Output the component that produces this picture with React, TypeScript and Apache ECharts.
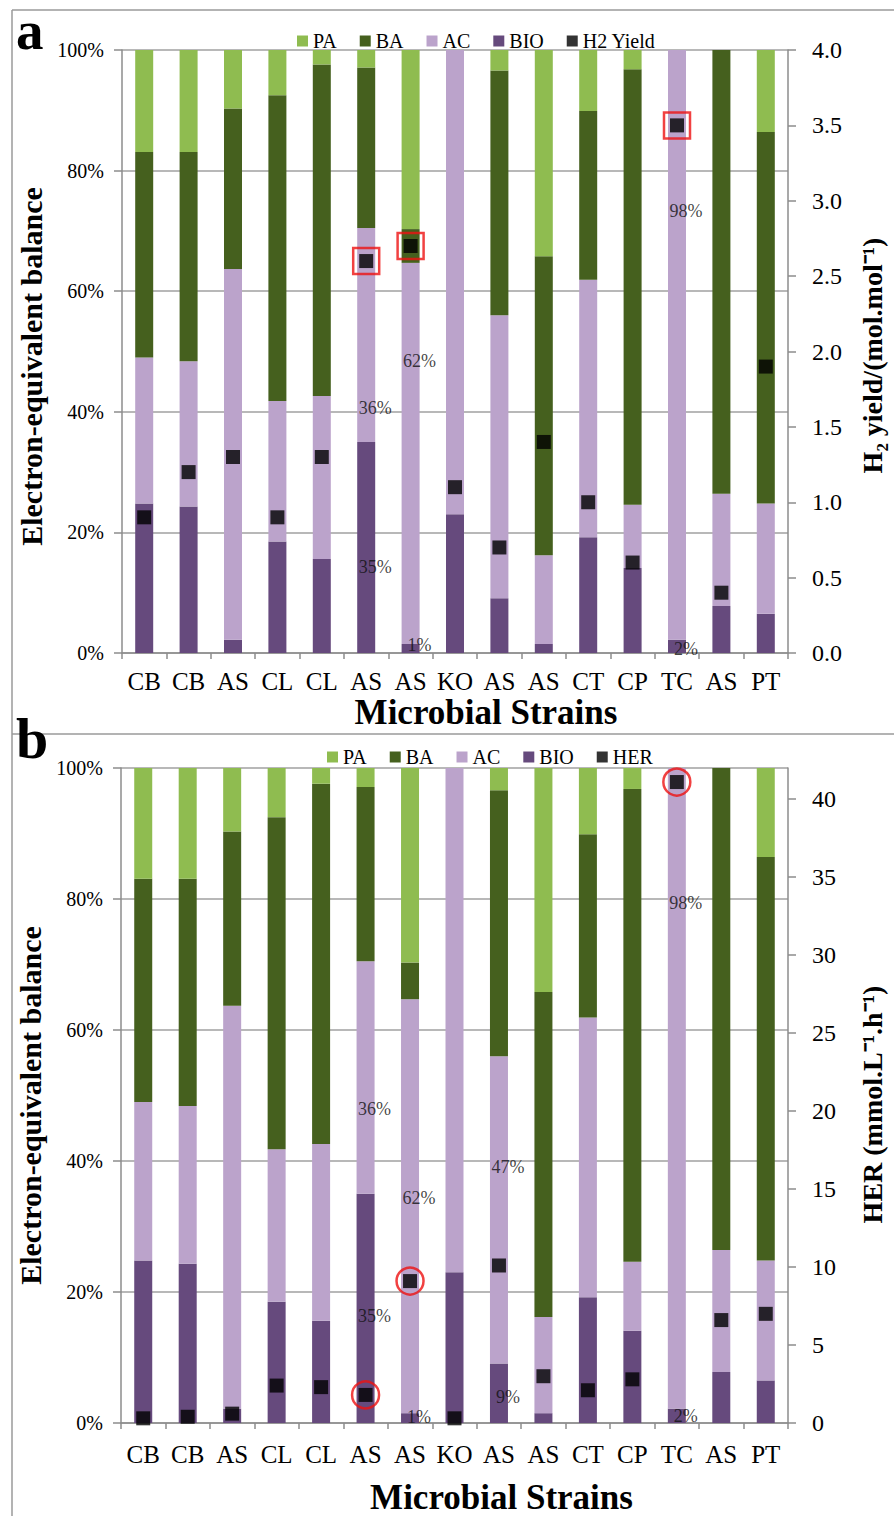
import React, { useEffect, useRef } from 'react';
import * as echarts from 'echarts';

// ---------- data ----------
const categories = ['CB', 'CB', 'AS', 'CL', 'CL', 'AS', 'AS', 'KO', 'AS', 'AS', 'CT', 'CP', 'TC', 'AS', 'PT'];
const bio = [24.8, 24.3, 2.2, 18.5, 15.6, 35.0, 1.5, 23.0, 9.1, 1.5, 19.2, 14.1, 2.2, 7.8, 6.5];
const ac = [24.2, 24.1, 61.5, 23.3, 27.0, 35.5, 63.2, 77.0, 46.9, 14.7, 42.7, 10.5, 97.8, 18.6, 18.3];
const ba = [34.1, 34.7, 26.6, 50.7, 55.0, 26.6, 5.6, 0, 40.6, 49.6, 28.0, 72.2, 0, 73.6, 61.6];
const pa = [16.9, 16.9, 9.7, 7.5, 2.4, 2.9, 29.7, 0, 3.4, 34.2, 10.1, 3.2, 0, 0, 13.6];

const h2Yield = [0.9, 1.2, 1.3, 0.9, 1.3, 2.6, 2.7, 1.1, 0.7, 1.4, 1.0, 0.6, 3.5, 0.4, 1.9];
const her = [0.3, 0.4, 0.6, 2.4, 2.3, 1.8, 9.1, 0.3, 10.1, 3.0, 2.1, 2.8, 41.1, 6.6, 7.0];

const highlightA = [5, 6, 12];
const highlightB = [5, 6, 12];

// percent annotations (category index, y position in %, text)
const annotCatA = [5, 5, 6, 6, 12, 12];
const annotPctA = [40.7, 14.2, 48.5, 1.3, 73.3, 0.6];
const annotTextA = ['36%', '35%', '62%', '1%', '98%', '2%'];

const annotCatB = [5, 5, 6, 6, 8, 8, 12, 12];
const annotPctB = [48.0, 16.3, 34.4, 0.9, 39.1, 3.9, 79.4, 1.0];
const annotTextB = ['36%', '35%', '62%', '1%', '47%', '9%', '98%', '2%'];

const leftTicks = [0, 20, 40, 60, 80, 100];

// ---------- styles ----------
const FONT = '"Liberation Serif", "Times New Roman", serif';
const C_PA = '#8FBC50';
const C_BA = '#45601E';
const C_AC = '#BBA3CB';
const C_BIO = '#664A7D';
const AXIS_GREY = '#8c8c8c';

function buildOption() {
  const xAxisBase = (gridIndex: number, margin: number, nameGap: number, shift: number) => ({
    type: 'category',
    gridIndex,
    data: categories,
    boundaryGap: true,
    axisLine: { lineStyle: { color: AXIS_GREY, width: 1.5 } },
    axisTick: { show: true, alignWithLabel: false, length: 6, lineStyle: { color: AXIS_GREY, width: 1.5 } },
    axisLabel: { interval: 0, margin, color: '#000', fontFamily: FONT, fontSize: 25 },
    name: 'Microbial Strains',
    nameLocation: 'middle',
    nameGap,
    nameTextStyle: {
      color: '#000',
      fontFamily: FONT,
      fontSize: 35,
      fontWeight: 'bold',
      padding: [0, 0, 0, shift],
    },
  });

  const leftAxis = (gridIndex: number, down: number) => ({
    type: 'value',
    gridIndex,
    position: 'left',
    min: leftTicks[0],
    max: leftTicks[leftTicks.length - 1],
    interval: 20,
    axisLine: { show: true, lineStyle: { color: AXIS_GREY, width: 1.5 } },
    axisTick: { show: true, length: 8, lineStyle: { color: AXIS_GREY, width: 1.5 } },
    axisLabel: { formatter: '{value}%', margin: 18, color: '#000', fontFamily: FONT, fontSize: 20 },
    splitLine: { show: true, lineStyle: { color: '#a0a0a0', width: 1.5 } },
    name: 'Electron-equivalent balance',
    nameLocation: 'middle',
    nameGap: 73,
    nameTextStyle: {
      color: '#000',
      fontFamily: FONT,
      fontSize: 30,
      fontWeight: 'bold',
      padding: [0, down, 0, 0],
    },
  });

  const rightAxis = (
    gridIndex: number,
    max: number,
    interval: number,
    name: string,
    fmt: (v: number) => string,
    down: number
  ) => ({
    type: 'value',
    gridIndex,
    position: 'right',
    min: 0,
    max,
    interval,
    axisLine: { show: true, lineStyle: { color: AXIS_GREY, width: 1.5 } },
    axisTick: { show: true, length: 8, lineStyle: { color: AXIS_GREY, width: 1.5 } },
    axisLabel: { formatter: fmt, margin: 24, color: '#000', fontFamily: FONT, fontSize: 24, showMaxLabel: max % interval === 0 },
    splitLine: { show: false },
    name,
    nameLocation: 'middle',
    nameGap: 70,
    nameTextStyle: {
      color: '#000',
      fontFamily: FONT,
      fontSize: 28,
      fontWeight: 'bold',
      padding: [0, down, 0, 0],
    },
  });

  const bars = (xi: number, yi: number, stack: string) =>
    [
      { name: 'BIO', data: bio, color: C_BIO },
      { name: 'AC', data: ac, color: C_AC },
      { name: 'BA', data: ba, color: C_BA },
      { name: 'PA', data: pa, color: C_PA },
    ].map((s) => ({
      type: 'bar',
      name: s.name,
      xAxisIndex: xi,
      yAxisIndex: yi,
      stack,
      barWidth: 18,
      data: s.data,
      itemStyle: { color: s.color },
      emphasis: { disabled: true },
    }));

  const annot = (xi: number, yi: number, cats: number[], pcts: number[], texts: string[]) => ({
    type: 'scatter',
    name: 'annot',
    xAxisIndex: xi,
    yAxisIndex: yi,
    symbolSize: 0,
    silent: true,
    z: 5,
    data: cats.map((c, i) => ({ value: [c, pcts[i]], name: texts[i] })),
    label: {
      show: true,
      position: 'inside',
      offset: [9, 0],
      formatter: (p: any) => p.name,
      color: '#111',
      fontFamily: FONT,
      fontSize: 18,
    },
  });

  const highlight = (xi: number, yi: number, idx: number[], vals: number[], symbol: string, size: number) => ({
    type: 'scatter',
    name: 'hl',
    xAxisIndex: xi,
    yAxisIndex: yi,
    symbol,
    symbolSize: size,
    silent: true,
    z: 4,
    data: categories.map((_, i) => (idx.indexOf(i) >= 0 ? vals[i] : '-')),
    itemStyle: { color: 'rgba(0,0,0,0)', borderColor: '#ee1111', borderWidth: 2.5 },
  });

  const legendStyle = {
    icon: 'rect',
    itemWidth: 11,
    itemHeight: 11,
    itemGap: 23,
    textStyle: { color: '#000', fontFamily: FONT, fontSize: 20 },
    selectedMode: false,
  };

  return {
    animation: false,
    backgroundColor: '#ffffff',
    grid: [
      { left: 122, top: 50, width: 675, height: 603 },
      { left: 121, top: 768, width: 677, height: 659 },
    ],
    legend: [
      { ...legendStyle, left: 292, top: 26, data: ['PA', 'BA', 'AC', 'BIO', 'H2 Yield'] },
      { ...legendStyle, left: 322, top: 742, data: ['PA', 'BA', 'AC', 'BIO', 'HER'] },
    ],
    xAxis: [xAxisBase(0, 16, 40, 62), xAxisBase(1, 19, 57, 94)],
    yAxis: [
      leftAxis(0, 30),
      rightAxis(0, 4, 0.5, 'H\u2082 yield/(mol.mol\u207B\u00B9)', (v: number) => v.toFixed(1), 8),
      leftAxis(1, 20),
      rightAxis(1, 42, 5, 'HER (mmol.L\u207B\u00B9.h\u207B\u00B9)', (v: number) => String(v), 18),
    ],
    series: [
      ...bars(0, 0, 'a'),
      {
        type: 'scatter',
        name: 'H2 Yield',
        xAxisIndex: 0,
        yAxisIndex: 1,
        symbol: 'rect',
        symbolSize: 14,
        z: 3,
        data: h2Yield,
        itemStyle: { color: '#000' },
      },
      highlight(0, 1, highlightA, h2Yield, 'rect', 26),
      annot(0, 0, annotCatA, annotPctA, annotTextA),
      ...bars(1, 2, 'b'),
      {
        type: 'scatter',
        name: 'HER',
        xAxisIndex: 1,
        yAxisIndex: 3,
        symbol: 'rect',
        symbolSize: 14,
        z: 3,
        data: her,
        itemStyle: { color: '#000' },
      },
      highlight(1, 3, highlightB, her, 'circle', 27),
      annot(1, 2, annotCatB, annotPctB, annotTextB),
    ],
    graphic: [
      { type: 'line', shape: { x1: 12, y1: 10, x2: 894, y2: 10 }, style: { stroke: '#9a9a9a', lineWidth: 1.5 } },
      { type: 'line', shape: { x1: 12, y1: 10, x2: 12, y2: 1516 }, style: { stroke: '#9a9a9a', lineWidth: 1.5 } },
      { type: 'line', shape: { x1: 12, y1: 734, x2: 894, y2: 734 }, style: { stroke: '#9a9a9a', lineWidth: 1.5 } },
      {
        type: 'text',
        x: 16,
        y: 10,
        z: 10,
        style: {
          text: 'a',
          font: 'bold 55px "Liberation Serif", serif',
          lineHeight: 40,
          fill: '#000',
          verticalAlign: 'top',
        },
      },
      {
        type: 'text',
        x: 16,
        y: 718,
        z: 10,
        style: {
          text: 'b',
          font: 'bold 58px "Liberation Serif", serif',
          lineHeight: 40,
          fill: '#000',
          verticalAlign: 'top',
        },
      },
    ],
  };
}

export default function App() {
  const ref = useRef<HTMLDivElement>(null);
  useEffect(() => {
    if (!ref.current) return;
    const chart = echarts.init(ref.current, undefined, { renderer: 'svg' });
    chart.setOption(buildOption() as any);
    return () => chart.dispose();
  }, []);
  return (
    <div
      ref={ref}
      style={{ position: 'absolute', left: 0, top: 0, width: 894, height: 1516, background: '#fff' }}
    />
  );
}
